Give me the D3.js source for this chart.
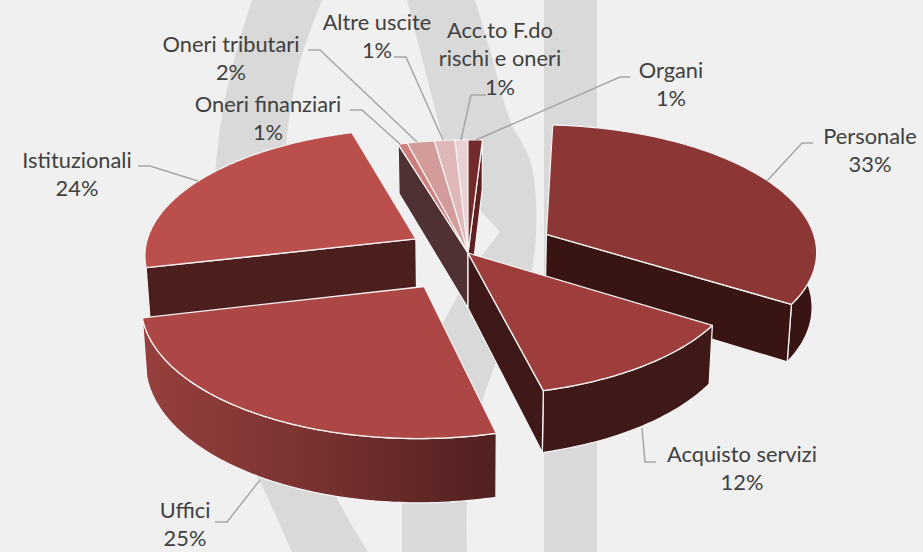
<!DOCTYPE html>
<html><head><meta charset="utf-8">
<style>html,body{margin:0;padding:0;background:#f0f0f0}svg{display:block}text{font-family:Lato,"Open Sans",sans-serif;font-size:21.8px;fill:#404040;text-anchor:middle}</style>
<script src="https://cdnjs.cloudflare.com/ajax/libs/d3/7.8.5/d3.min.js"></script>
</head><body><svg id="c" width="923" height="552"></svg>
<script>
// ---- data ----
const categories = ["Personale","Acquisto servizi","Uffici","Istituzionali","Oneri finanziari","Oneri tributari","Altre uscite","Acc.to F.do\nrischi e oneri","Organi"];
const values = [33.1,12.0,25.3,24.05,0.6,1.8,1.35,0.85,0.95];
const explosion = [89.5,0,82,61,0,0,0,0,0];
// ---- style ----
const topColors  = ["#8c3635","#9d3e3d","#ad4746","#bb4f4c","#cc7f7d","#d39c9b","#e0b8b8","#e8d2d3","#732a2a"];
const wallColors = ["#381513","#3f1917","url(#uffGrad)","#4c1e1e","#4f3033","#4f3033","#4f3033","#5e2020","#5e2020"];
const labelAnchors = [[870,144],[742,462],[185,518],[77,168],[268,112],[231,52],[377,30],[500,38],[671,78]];
const leaders = [
 [[813,143],[802,143],[767,181]],[[656,462],[645,462],[642,428]],[[215,522],[227,522],[260,480]],
 [[138,166],[150,166],[198,181]],[[350,110],[362,110],[400,144]],[[308,50],[320,50],[417,142]],
 [[394,57],[406,57],[443,140]],[[486,95],[471,95],[461,140]],[[630,77],[620,77],[476,140]]];
const backdrop = {
 band:[[544,0],[597,0],[597,552],[544,552]],
 leftOuter:[[252,0],[234,60],[222,115],[215,175],[206,300],[225,420],[260,482],[292,552]],
 leftInner:[[368,552],[338,500],[302,420],[283,300],[284,170],[298,70],[322,0]],
 rightOuter:[[407,0],[425,70],[443,140],[480,210],[500,232],[477,262],[458,295],[443,323],[415,420],[402,480],[402,552]],
 rightInner:[[467,552],[468,480],[482,403],[505,340],[532,270],[532,167],[510,120],[490,50],[475,0]]
};
// ---- geometry ----
const cx=468, cy=253, R=272, b=0.464, k=0.115, h=55, bottomShrink=0.987;
const rad=Math.PI/180, startDeg=3.4;
const pieGen=d3.pie().sort(null).startAngle(startDeg*rad).endAngle((startDeg+360)*rad);
const arcs=pieGen(values);
const lineGen=d3.line();
const curveGen=d3.line().curve(d3.curveCatmullRom.alpha(0.5));
const svg=d3.select("#c");
const defs=svg.append("defs");
const g=defs.append("linearGradient").attr("id","uffGrad").attr("gradientUnits","userSpaceOnUse").attr("x1",143).attr("x2",496).attr("y1",0).attr("y2",0);
[[0,"#963f3e"],[0.45,"#7b3332"],[1,"#512020"]].forEach(s=>g.append("stop").attr("offset",s[0]).attr("stop-color",s[1]));
svg.append("rect").attr("width",923).attr("height",552).attr("fill","#f0f0f0");
svg.append("path").attr("d",lineGen(backdrop.band)+"Z").attr("fill","#d9d9d9");
svg.append("path").attr("d",curveGen(backdrop.leftOuter)+"L"+curveGen(backdrop.leftInner).slice(1)+"Z").attr("fill","#d9d9d9");
svg.append("path").attr("d",lineGen(backdrop.rightOuter)+"L"+curveGen(backdrop.rightInner).slice(1)+"Z").attr("fill","#d9d9d9");

function project(theta,r,e,mid,bottom){
  const X=e*Math.sin(mid)+R*r*Math.sin(theta), Y=-(e*Math.cos(mid)+R*r*Math.cos(theta));
  const s=1/(1-k*Y/R);
  return [cx+X*s*(bottom?bottomShrink:1), cy+Y*b*s+(bottom?h*s:0)];
}
const slices=arcs.map((a,i)=>{
  const mid=(a.startAngle+a.endAngle)/2, e=explosion[i];
  const n=Math.max(4,Math.ceil((a.endAngle-a.startAngle)/rad));
  const ths=d3.range(n+1).map(j=>a.startAngle+(a.endAngle-a.startAngle)*j/n);
  const P=(t,r,bot)=>project(t,r,e,mid,bot);
  const depth=project(mid,0.6,e,mid,false)[1];
  return {i,a,mid,e,ths,P,depth};
});
const order=slices.slice().sort((p,q)=>p.depth-q.depth);
function face(pts,fill){
  svg.append("path").attr("d",lineGen(pts)+"Z").attr("fill",fill).attr("stroke","#f4f2f2").attr("stroke-width",1.3).attr("stroke-linejoin","round");
}
const N=slices.length;
const cr=(u,v,w)=>(v[0]-u[0])*(w[1]-u[1])-(v[1]-u[1])*(w[0]-u[0]);
order.forEach(sl=>{
  const {i,a,P,ths,e}=sl;
  const front=ths.filter(t=>{const d=((t/rad)%360+360)%360;return d>=88&&d<=272;});
  if(front.length>1){
    const topRim=front.map(t=>P(t,1,false)), botRim=front.map(t=>P(t,1,true)).reverse();
    face(topRim.concat(botRim),wallColors[i]);
  }
  const prev=(i+N-1)%N,next=(i+1)%N;
  const ap=P(0,0,false),apB=P(0,0,true);
  [[a.startAngle,prev],[a.endAngle,next]].forEach(([ang,nb])=>{
    if(explosion[nb]===e&&e===0) return;
    const pT=P(ang,1,false),pB=P(ang,1,true),other=P(sl.mid,0.8,false);
    if(cr(ap,pT,other)*cr(ap,pT,apB)<0) face([ap,pT,pB,apB],wallColors[i]);
  });
});
order.forEach(sl=>{
  const {i,P,ths}=sl;
  face([P(0,0,false)].concat(ths.map(t=>P(t,1,false))),topColors[i]);
});
svg.append("g").selectAll("path").data(leaders).join("path")
  .attr("d",d=>lineGen(d)).attr("fill","none").attr("stroke","#a6a6a6").attr("stroke-width",1.5);
const fmt=d3.format(".0%"), total=d3.sum(values);
categories.forEach((c,i)=>{
  const lines=c.split("\n").concat(fmt(values[i]/total));
  const t=svg.append("text").attr("x",labelAnchors[i][0]).attr("y",labelAnchors[i][1]);
  lines.forEach((l,j)=>t.append("tspan").attr("x",labelAnchors[i][0]).attr("dy",j?28.3:0).text(l));
});
</script></body></html>
